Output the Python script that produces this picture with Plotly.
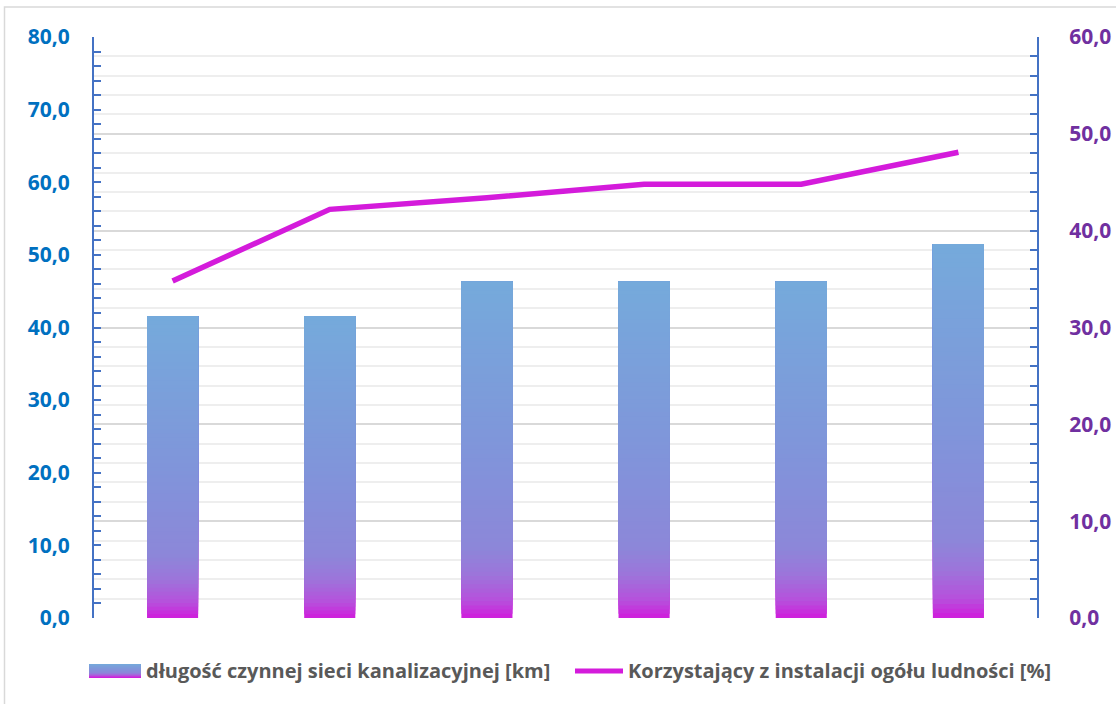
import plotly.graph_objects as go

# ---- data ----
categories = [0, 1, 2, 3, 4, 5]
bar_name = "długość czynnej sieci kanalizacyjnej [km]"
line_name = "Korzystający z instalacji ogółu ludności [%]"
bar_values = [41.5, 41.5, 46.3, 46.3, 46.3, 51.5]
line_values = [34.8, 42.2, 43.4, 44.8, 44.8, 48.1]

# ---- layout constants ----
W, H = 1116, 704
L, R, T, B = 94, 79, 37, 86
PW, PH = W - L - R, H - T - B

def px_x(p):
    return (p - L) / PW

def px_y(p):
    return (H - B - p) / PH

# gradient stops (fraction from bottom -> rgb)
stops = [
    (0.0, (208, 28, 220)),
    (0.05, (183, 79, 220)),
    (0.13, (156, 117, 218)),
    (0.21, (140, 135, 217)),
    (0.5, (128, 149, 218)),
    (1.0, (117, 170, 219)),
]

def grad(f):
    for (f0, c0), (f1, c1) in zip(stops[:-1], stops[1:]):
        if f <= f1:
            t = (f - f0) / (f1 - f0) if f1 > f0 else 0
            c = [round(a + (b - a) * t) for a, b in zip(c0, c1)]
            return "rgb(%d,%d,%d)" % tuple(c)
    return "rgb(%d,%d,%d)" % stops[-1][1]

fig = go.Figure()

# gradient bars: each layer starts higher and reaches the bar top, drawn over the previous one
N = 80
for k in range(N):
    fig.add_trace(go.Bar(
        x=categories,
        y=[v - v * k / N for v in bar_values],
        base=[v * k / N for v in bar_values],
        width=0.325,
        marker=dict(color=grad((k + 0.5) / N), line=dict(width=0)),
        showlegend=False,
        hoverinfo="skip",
        yaxis="y",
    ))

fig.add_trace(go.Scatter(
    x=categories, y=line_values, mode="lines",
    line=dict(color="#d41bdb", width=5.5),
    yaxis="y2", showlegend=False, name=line_name,
))

axis_blue = "#4472c4"
fig.update_layout(
    width=W, height=H,
    margin=dict(l=L, r=R, t=T, b=B, autoexpand=False),
    paper_bgcolor="white", plot_bgcolor="white",
    separators=", ",
    barmode="overlay",
    showlegend=False,
    xaxis=dict(range=[-0.5, 5.5], showticklabels=False, showgrid=False,
               zeroline=False, showline=False, ticks="", automargin=False),
    yaxis=dict(range=[0, 80], dtick=10, tickformat=".1f", automargin=False,
               showgrid=False, zeroline=False,
               showline=True, linecolor=axis_blue, linewidth=2,
               ticks="inside", ticklen=7, tickcolor=axis_blue, tickwidth=2,
               minor=dict(dtick=2, ticks="inside", ticklen=7, tickcolor=axis_blue, tickwidth=2, showgrid=False),
               tickfont=dict(family="Open Sans", size=21, color="#0070c0", weight="bold"),
               ticklabelstandoff=18),
    yaxis2=dict(range=[0, 60], dtick=10, tickformat=".1f", overlaying="y", side="right",
                automargin=False,
                showgrid=True, gridcolor="#d9d9d9", gridwidth=1.5, zeroline=False,
                showline=True, linecolor=axis_blue, linewidth=2,
                ticks="inside", ticklen=7, tickcolor=axis_blue, tickwidth=2,
                minor=dict(dtick=2, ticks="inside", ticklen=7, tickcolor=axis_blue, tickwidth=2,
                           showgrid=True, gridcolor="#eeeeee", gridwidth=1.5),
                tickfont=dict(family="Open Sans", size=21, color="#7030a0", weight="bold"),
                ticklabelstandoff=26),
)

shapes = []
# chart border
shapes.append(dict(type="rect", xref="paper", yref="paper",
                   x0=px_x(4.5), x1=px_x(1125), y0=px_y(7), y1=px_y(712),
                   line=dict(color="#d9d9d9", width=1.5), fillcolor="rgba(0,0,0,0)", layer="below"))
# legend bar symbol (gradient strips)
lx0, lx1, ly0, ly1 = 89, 141, 664, 678
S = 14
for i in range(S):
    yt = ly0 + (ly1 - ly0) * i / S
    f = 1 - (i + 0.5) / S
    shapes.append(dict(type="rect", xref="paper", yref="paper",
                       x0=px_x(lx0), x1=px_x(lx1), y0=px_y(ly1), y1=px_y(yt),
                       line=dict(width=0), fillcolor=grad(f ** 1.6)))
# legend line symbol
shapes.append(dict(type="line", xref="paper", yref="paper",
                   x0=px_x(575), x1=px_x(623), y0=px_y(671), y1=px_y(671),
                   line=dict(color="#d41bdb", width=5)))
fig.update_layout(shapes=shapes)

legend_font = dict(family="Open Sans", size=20, color="#595959", weight="bold")
fig.add_annotation(x=px_x(144), y=px_y(670), xref="paper", yref="paper",
                   text=bar_name, showarrow=False, xanchor="left", yanchor="middle", font=legend_font)
fig.add_annotation(x=px_x(626), y=px_y(670), xref="paper", yref="paper",
                   text=line_name, showarrow=False, xanchor="left", yanchor="middle", font=legend_font)

fig.write_html("out.html")
